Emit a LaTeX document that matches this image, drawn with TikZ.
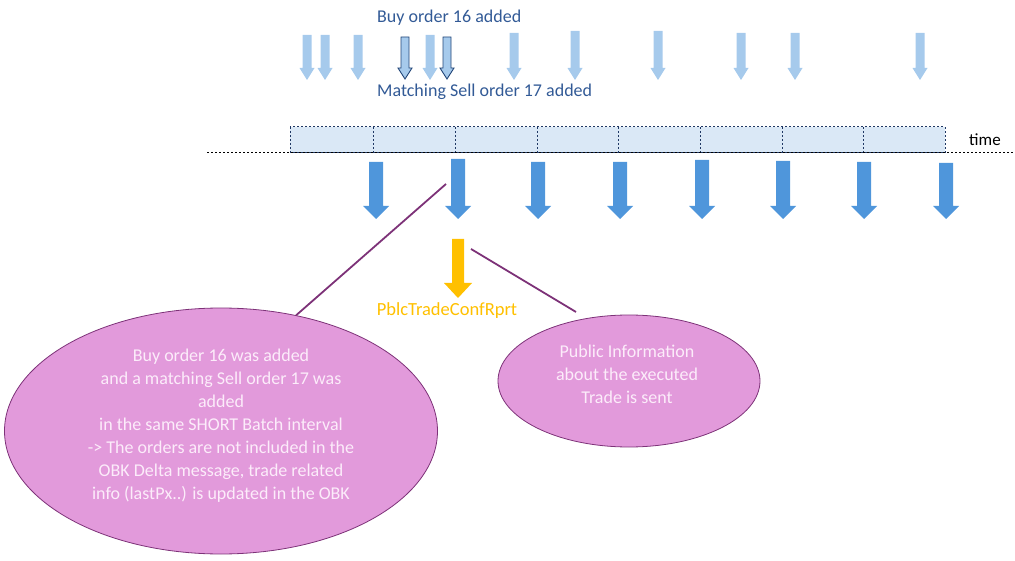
\documentclass[tikz,border=0pt]{standalone}
\usepackage{fontspec}
\setmainfont{Carlito}
\usetikzlibrary{shapes.geometric}
\definecolor{lightarr}{RGB}{166,202,236}
\definecolor{bigarr}{RGB}{79,150,219}
\definecolor{boxfill}{RGB}{218,232,246}
\definecolor{boxline}{RGB}{31,56,100}
\definecolor{txtblue}{RGB}{50,90,150}
\definecolor{darkarr}{RGB}{35,70,120}
\definecolor{pfill}{RGB}{226,154,219}
\definecolor{pline}{RGB}{125,50,120}
\definecolor{ptext}{RGB}{252,236,250}
\definecolor{ygold}{RGB}{255,192,0}
% x, ytop, ybot, shaft half width, head half width, head length, style
\newcommand\DnArrow[7]{%
  \path[#7] (#1-#4,#2) -- (#1+#4,#2) -- (#1+#4,#3-#6) -- (#1+#5,#3-#6) -- (#1,#3)
    -- (#1-#5,#3-#6) -- (#1-#4,#3-#6) -- cycle;}
\tikzset{
  lightarrow/.style={fill=lightarr},
  darkarrow/.style={fill=lightarr, draw=darkarr, line width=0.9pt, line join=miter},
  bigarrow/.style={fill=bigarr},
  goldarrow/.style={fill=ygold},
  batchbox/.style={fill=boxfill, draw=boxline, line width=1pt, dash pattern=on 2pt off 2pt},
  timeline/.style={draw=black, line width=0.9pt, dash pattern=on 2pt off 2pt},
  bubble/.style={ellipse, fill=pfill, draw=pline, line width=0.8pt, inner sep=0pt},
  bubbletext/.style={text=ptext, align=center, inner sep=0pt, font=\fontsize{18}{23}\selectfont},
  callout/.style={draw=pline, line width=1.8pt},
  bluelabel/.style={text=txtblue, font=\fontsize{18}{20}\selectfont, anchor=west, inner sep=0pt},
}
\begin{document}
\begin{tikzpicture}[x=1pt,y=-1pt]
\useasboundingbox (0,0) rectangle (1015,561);
% top small arrows
\foreach \ax/\at in {307/35,325/35,358/35,430/35,514/33,575/31,658/31,741/33,795/33,920/33}{
  \DnArrow{\ax}{\at}{80}{4.5}{7.5}{12}{lightarrow}
}
\DnArrow{405}{37}{79}{4}{7}{11}{darkarrow}
\DnArrow{447}{37}{79}{4}{7}{11}{darkarrow}
\node[bluelabel] (buy) at (377,18) {Buy order 16 added};
\node[bluelabel] (sell) at (377,92) {Matching Sell order 17 added};
% timeline
\draw[timeline] (207,152.5) -- (1015,152.5);
\path[batchbox] (290,127) rectangle (945,152.5);
\foreach \dx in {373,455,537,618,700,782,863}{
  \draw[boxline, line width=1pt, dash pattern=on 2pt off 2pt] (\dx,127) -- (\dx,152.5);
}
\node[anchor=west, inner sep=0pt, font=\fontsize{17}{18}\selectfont] (time) at (969,140) {time};
% big arrows
\foreach \bx/\bt in {376/162,458/159,538/162,620/162,702/160,783/161,864/162,946/163}{
  \DnArrow{\bx}{\bt}{219}{7}{13}{13}{bigarrow}
}
% gold arrow
\DnArrow{458}{239}{298}{6}{14}{15}{goldarrow}
\node[text=ygold, font=\fontsize{18.5}{20}\selectfont, inner sep=0pt] (pblc) at (447,311) {PblcTradeConfRprt};
% bubbles
\node[bubble, minimum width=433pt, minimum height=246pt] (e1) at (221,431) {};
\node[bubbletext] (e1t) at (221,426) {Buy order 16 was added\\and a matching Sell order 17 was\\added\\in the same SHORT Batch interval\\-> The orders are not included in the\\OBK Delta message, trade related\\info (lastPx..) is updated in the OBK};
\node[bubble, minimum width=262pt, minimum height=132pt] (e2) at (629,381) {};
\node[bubbletext] (e2t) at (627,374) {Public Information\\about the executed\\Trade is sent};
% callout lines
\coordinate (c1) at (446,184);
\coordinate (c2) at (471,249);
\coordinate (c2e) at (576,312);
\draw[callout] (c1) -- (e1.57);
\draw[callout] (c2) -- (c2e);
\end{tikzpicture}
\end{document}
